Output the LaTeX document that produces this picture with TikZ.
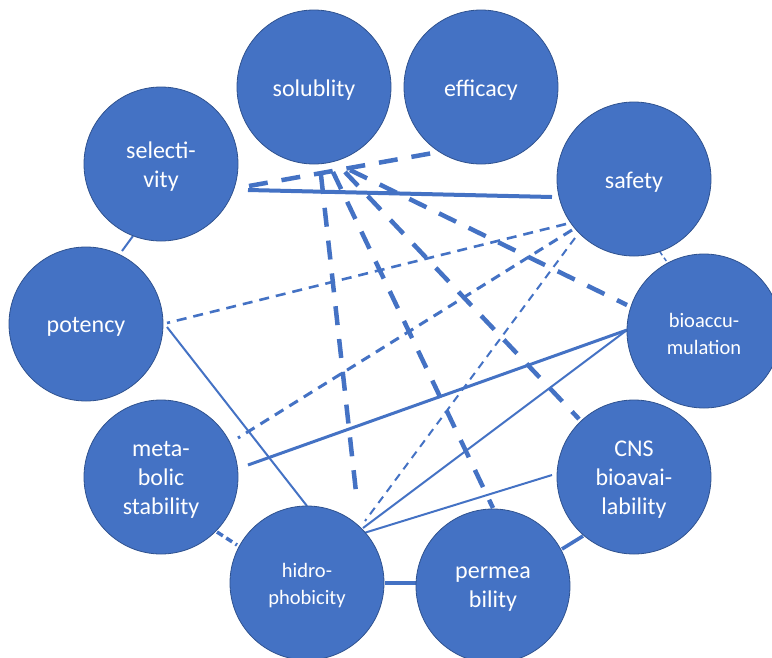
\documentclass[tikz,border=0pt]{standalone}
\usepackage{fontspec}
\setmainfont{Carlito}
\usetikzlibrary{backgrounds}
\definecolor{obl}{HTML}{4472C4}
\definecolor{obd}{HTML}{2F528F}
\begin{document}
\begin{tikzpicture}[x=1pt,y=-1pt,
  bub/.style={circle, fill=obl, draw=obd, line width=0.8pt, minimum size=154pt,
    inner sep=0pt, outer sep=0pt},
  lbl/.style={text=white, align=center, inner sep=0pt, yshift=-3pt,
    font=\fontsize{24}{29}\selectfont},
  smalllbl/.style={lbl, font=\fontsize{20.5}{27}\selectfont},
  link/.style={draw=obl, line cap=butt},
  thickdash/.style={link, line width=4.5pt, dash pattern=on 19pt off 14pt},
  meddash/.style={link, line width=2.6pt, dash pattern=on 10pt off 7pt},
  thindash/.style={link, line width=2pt, dash pattern=on 8pt off 6pt},
  shortdash/.style={link, line width=3.5pt, dash pattern=on 7pt off 4pt},
  hairdash/.style={link, line width=1.5pt, dash pattern=on 4pt off 3pt},
  thinline/.style={link, line width=2pt},
  midline/.style={link, line width=3pt},
  boldline/.style={link, line width=3.6pt},
  heavyline/.style={link, line width=4pt}
]
\useasboundingbox (0,0) rectangle (772,657);
\clip (0,0) rectangle (772,657);

\node[bub, label={[lbl]center:solublity}] (sol) at (314,87) {};
\node[bub, label={[lbl]center:efficacy}] (eff) at (481,87) {};
\node[bub, label={[lbl]center:{selecti-\\vity}}] (sel) at (161,164) {};
\node[bub, label={[lbl]center:safety}] (saf) at (634,179) {};
\node[bub, label={[lbl]center:potency}] (pot) at (86,324) {};
\node[bub, label={[smalllbl]center:{bioaccu-\\mulation}}] (bio) at (704,331) {};
\node[bub, label={[lbl]center:{meta-\\bolic\\stability}}] (met) at (161,477) {};
\node[bub, label={[lbl]center:{CNS\\bioavai-\\lability}}] (cns) at (634,477) {};
\node[bub, label={[smalllbl]center:{hidro-\\phobicity}}] (hid) at (307,583) {};
\node[bub, label={[lbl]center:{permea\\bility}}] (per) at (493,586) {};

\begin{scope}[on background layer]
\draw[thickdash] ([shift={(88,22)}]sel.center) -- ([shift={(-48,66)}]eff.center);
\draw[heavyline] ([shift={(87,26)}]sel.center) -- ([shift={(-82,18)}]saf.center);
\draw[thickdash] ([shift={(7,88)}]sol.center) -- ([shift={(50,-82)}]hid.center);
\draw[thickdash] ([shift={(19,85)}]sol.center) -- ([shift={(0,-78)}]per.center);
\draw[thickdash] ([shift={(31,85)}]sol.center) -- ([shift={(-55,-58)}]cns.center);
\draw[thickdash] ([shift={(36,83)}]sol.center) -- ([shift={(-77,-26)}]bio.center);
\draw[meddash] ([shift={(-68,45)}]saf.center) -- ([shift={(81,-1)}]pot.center);
\draw[meddash, line width=3pt] ([shift={(-62,51)}]saf.center) -- ([shift={(77,-39)}]met.center);
\draw[thindash] ([shift={(-59,59)}]saf.center) -- ([shift={(58,-62)}]hid.center);
\draw[thinline] ([shift={(81,3)}]pot.center) -- ([shift={(0,-77)}]hid.center);
\draw[midline] ([shift={(87,-12)}]met.center) -- ([shift={(-77,-1)}]bio.center);
\draw[thinline] ([shift={(56,-55)}]hid.center) -- ([shift={(-77,-1)}]bio.center);
\draw[thinline] ([shift={(57,-50)}]hid.center) -- ([shift={(-82,-2)}]cns.center);
\draw[hairdash] ([shift={(26,73)}]saf.center) -- ([shift={(-37,-69)}]bio.center);
\draw[shortdash] ([shift={(56,55)}]met.center) -- ([shift={(-70,-38)}]hid.center);
\draw[boldline] ([shift={(78,0)}]hid.center) -- ([shift={(-76,-3)}]per.center);
\draw[boldline] ([shift={(69,-37)}]per.center) -- ([shift={(-51,59)}]cns.center);
\draw[thinline] ([shift={(-28,72)}]sel.center) -- ([shift={(36,-73)}]pot.center);
\end{scope}
\end{tikzpicture}
\end{document}
